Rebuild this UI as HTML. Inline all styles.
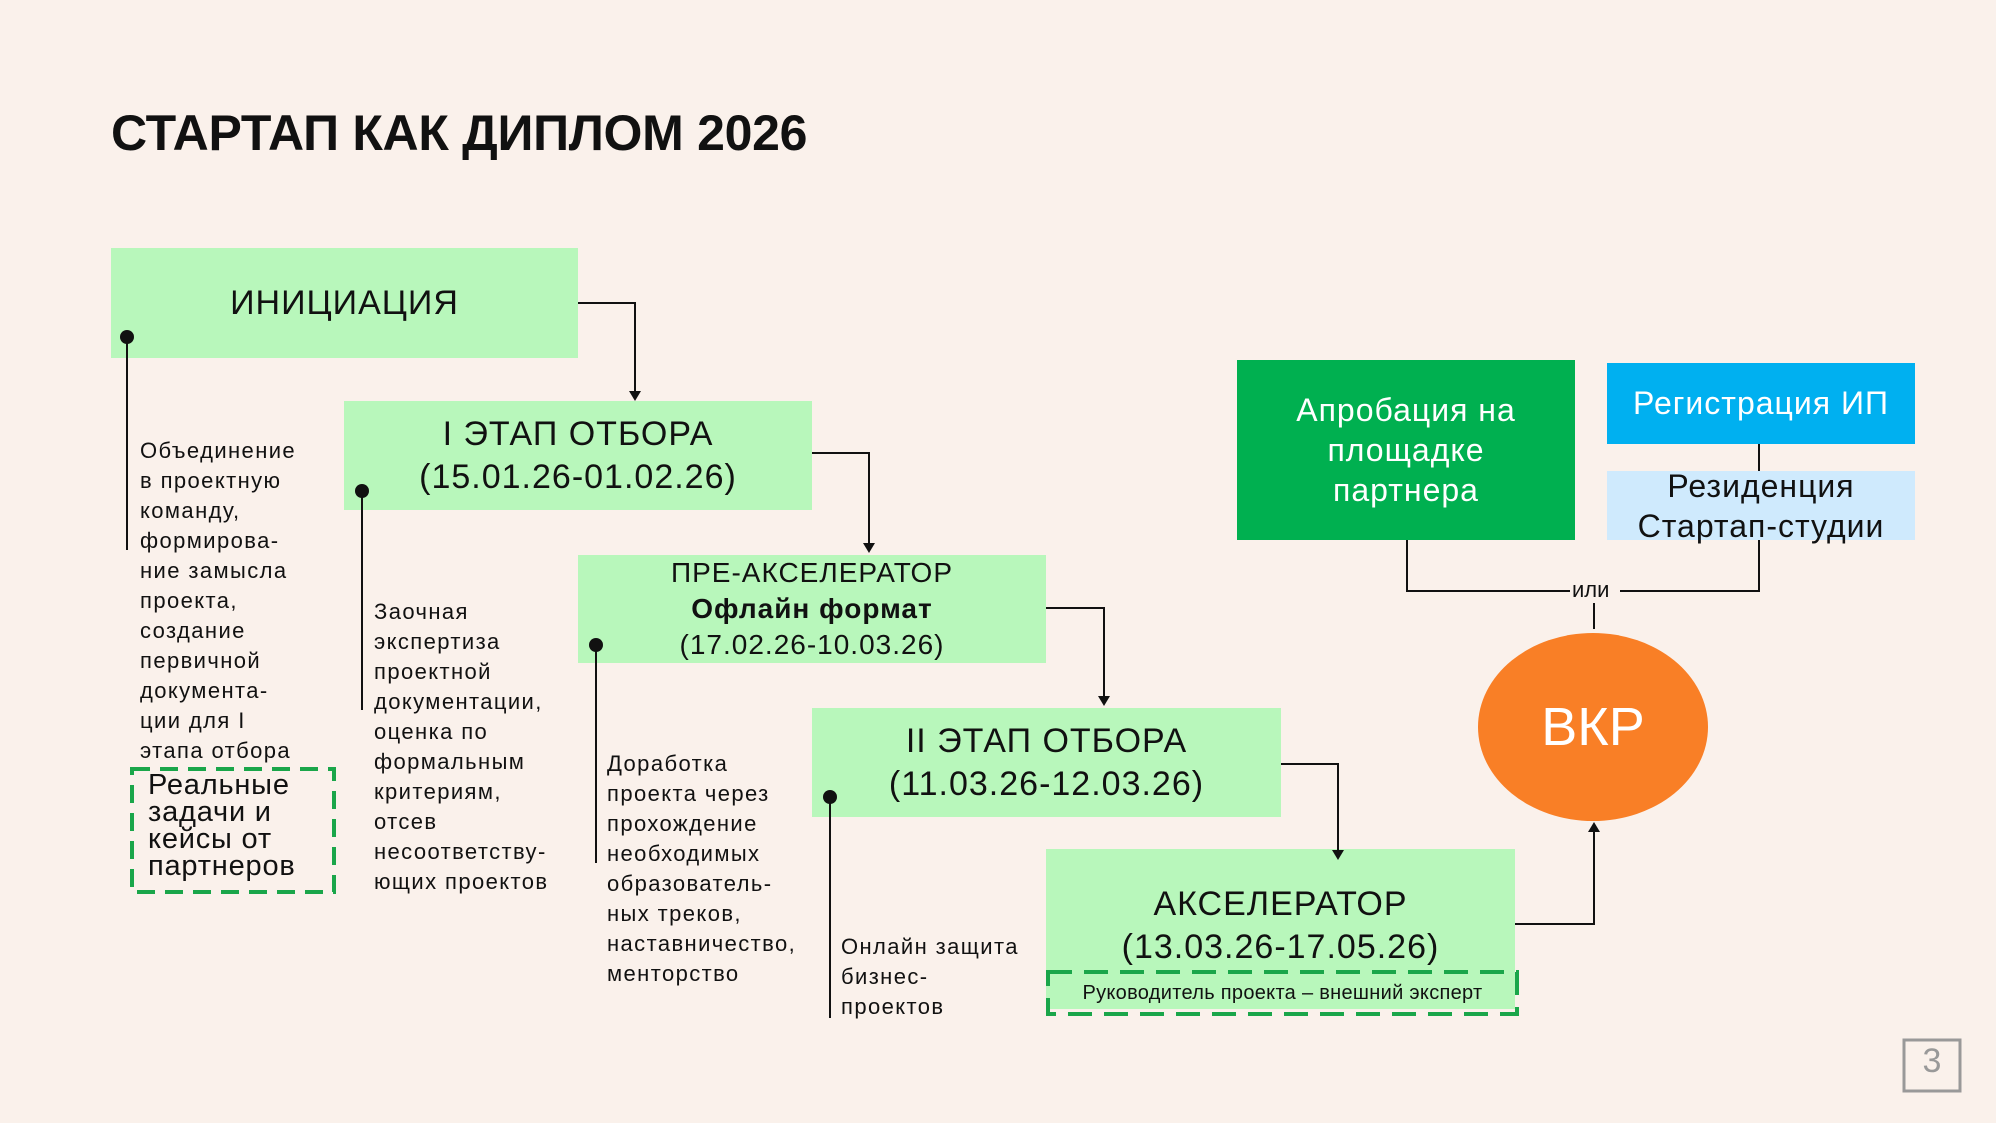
<!DOCTYPE html>
<html><head><meta charset="utf-8"><style>
body{margin:0;width:1996px;height:1123px;background:#faf1eb;position:relative;overflow:hidden;font-family:"Liberation Sans","DejaVu Sans",sans-serif;color:#111}
.a{position:absolute}
.box{position:absolute;background:#b8f7bb;display:flex;flex-direction:column;align-items:center;justify-content:center;text-align:center;font-size:34px;line-height:43px;letter-spacing:1px}
.t{position:absolute;font-size:22px;line-height:30px;letter-spacing:1.4px}
</style></head><body>
<div class="a" style="left:111px;top:104px;font-size:50px;font-weight:bold;letter-spacing:-0.3px">СТАРТАП КАК ДИПЛОМ 2026</div>

<div class="box" style="left:111px;top:248px;width:467px;height:110px">ИНИЦИАЦИЯ</div>
<div class="box" style="left:344px;top:401px;width:468px;height:109px"><div>I ЭТАП ОТБОРА</div><div>(15.01.26-01.02.26)</div></div>
<div class="box" style="left:578px;top:555px;width:468px;height:108px;font-size:28px;line-height:36px"><div>ПРЕ-АКСЕЛЕРАТОР</div><div style="font-weight:bold">Офлайн формат</div><div>(17.02.26-10.03.26)</div></div>
<div class="box" style="left:812px;top:708px;width:469px;height:109px"><div>II ЭТАП ОТБОРА</div><div>(11.03.26-12.03.26)</div></div>
<div class="box" style="left:1046px;top:849px;width:469px;height:160px;justify-content:flex-start;padding-top:34px;box-sizing:border-box"><div>АКСЕЛЕРАТОР</div><div>(13.03.26-17.05.26)</div></div>
<div class="a" style="left:1046px;top:972px;width:473px;height:42px;font-size:20px;line-height:42px;text-align:center;letter-spacing:0.3px">Руководитель проекта – внешний эксперт</div>

<div class="box" style="left:1237px;top:360px;width:338px;height:180px;background:#00b050;color:#fff;font-size:32px;line-height:40px"><div>Апробация на</div><div>площадке</div><div>партнера</div></div>
<div class="box" style="left:1607px;top:363px;width:308px;height:81px;background:#00b0f0;color:#fff;font-size:32px">Регистрация ИП</div>
<div class="box" style="left:1607px;top:471px;width:308px;height:69px;background:#cfeafd;font-size:32px;line-height:40px"><div>Резиденция</div><div>Стартап-студии</div></div>

<div class="a" style="left:1478px;top:633px;width:230px;height:188px;border-radius:50%;background:#f97f26;color:#fff;font-size:54px;display:flex;align-items:center;justify-content:center">ВКР</div>

<svg class="a" style="left:0;top:0" width="1996" height="1123">
<g fill="none" stroke="#111" stroke-width="2">
<path d="M578 303H635V392"/><path d="M812 453H869V545"/><path d="M1046 608H1104V698"/><path d="M1281 764H1338V852"/>
<path d="M1515 924H1594V830"/>
<path d="M1407 540V591H1570M1620 591H1759V540"/><path d="M1759 444V471"/><path d="M1594 603V629"/>
<path d="M127 337V550"/><path d="M362 491V710"/><path d="M596 645V863"/><path d="M830 797V1018"/>
</g>
<g fill="#111"><path d="M629 391h12l-6 10z"/><path d="M863 543h12l-6 10z"/><path d="M1098 696h12l-6 10z"/><path d="M1332 850h12l-6 10z"/><path d="M1588 832h12l-6-10z"/>
<circle cx="127" cy="337" r="7"/><circle cx="362" cy="491" r="7"/><circle cx="596" cy="645" r="7"/><circle cx="830" cy="797" r="7"/></g>
<rect x="132" y="769" width="202" height="123" fill="none" stroke="#1aa64a" stroke-width="4" stroke-dasharray="18,10"/>
<rect x="1048" y="972" width="469" height="42" fill="none" stroke="#1aa64a" stroke-width="4" stroke-dasharray="24,12"/>
<rect x="1904" y="1040" width="56" height="51" fill="none" stroke="#999" stroke-width="3"/>
</svg>
<div class="a" style="left:1572px;top:577px;font-size:22px">или</div>
<div class="a" style="left:1904px;top:1042px;width:56px;text-align:center;font-size:34px;color:#999">3</div>

<div class="t" style="left:140px;top:436px">Объединение<br>в проектную<br>команду,<br>формирова-<br>ние замысла<br>проекта,<br>создание<br>первичной<br>документа-<br>ции для I<br>этапа отбора</div>
<div class="a" style="left:148px;top:772px;font-size:29px;line-height:27px;letter-spacing:0.8px">Реальные<br>задачи и<br>кейсы от<br>партнеров</div>
<div class="t" style="left:374px;top:597px">Заочная<br>экспертиза<br>проектной<br>документации,<br>оценка по<br>формальным<br>критериям,<br>отсев<br>несоответству-<br>ющих проектов</div>
<div class="t" style="left:607px;top:749px">Доработка<br>проекта через<br>прохождение<br>необходимых<br>образователь-<br>ных треков,<br>наставничество,<br>менторство</div>
<div class="t" style="left:841px;top:932px">Онлайн защита<br>бизнес-<br>проектов</div>
</body></html>
